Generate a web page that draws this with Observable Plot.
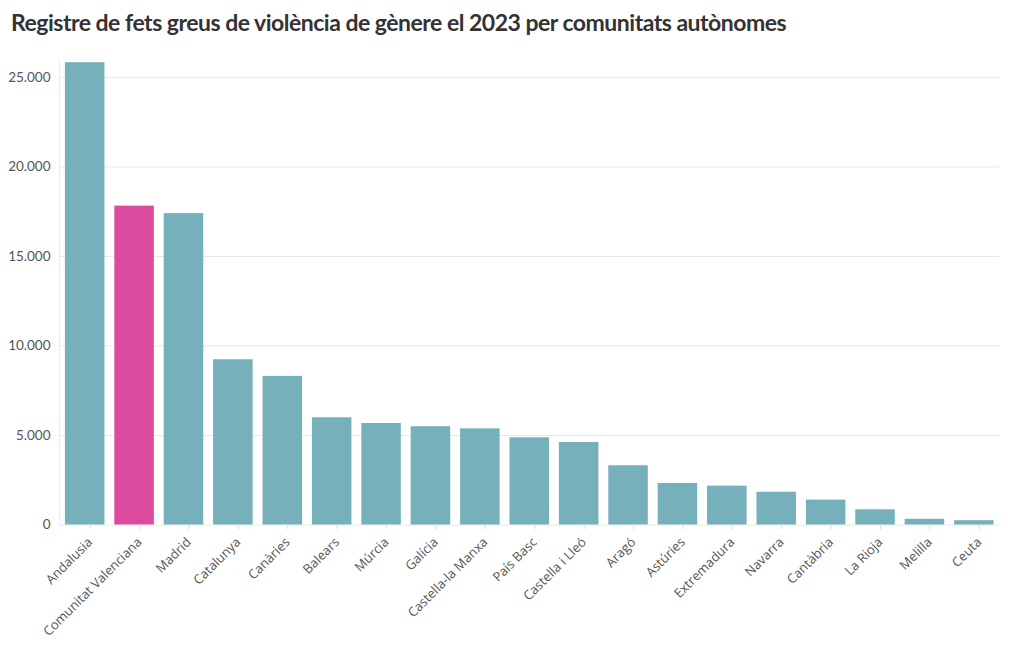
<!DOCTYPE html>
<html><head><meta charset="utf-8">
<script src="https://cdn.jsdelivr.net/npm/d3@7"></script>
<script src="https://cdn.jsdelivr.net/npm/@observablehq/plot@0.6"></script>
<style>
body{margin:0;background:#fff;width:1020px;height:650px;overflow:hidden;}
#title{height:50px;box-sizing:border-box;padding:8px 0 0 11px;font-family:"Source Sans Pro",Lato,"Open Sans",sans-serif;font-weight:700;font-size:23px;color:#333;letter-spacing:-0.5px;white-space:nowrap;}
</style></head><body>
<div id="title">Registre de fets greus de violència de gènere el 2023 per comunitats autònomes</div>
<div id="chart"></div>
<script>
const comunitats = ["Andalusia","Comunitat Valenciana","Madrid","Catalunya","Canàries","Balears","Múrcia","Galícia","Castella-la Manxa","País Basc","Castella i Lleó","Aragó","Astúries","Extremadura","Navarra","Cantàbria","La Rioja","Melilla","Ceuta"];
const fets = [25820,17810,17390,9230,8300,5990,5670,5490,5370,4870,4610,3310,2320,2170,1830,1390,850,320,240];
const destacada = "Comunitat Valenciana";
const yTicks = [0,5000,10000,15000,20000,25000];

const data = comunitats.map((c,i)=>({comunitat:c, fets:fets[i]}));
const loc = d3.formatLocale({thousands:".", decimal:",", grouping:[3], currency:["","€"]});
const fmt = loc.format(",");

const chart = Plot.plot({
  width:1020, height:600,
  marginTop:9, marginBottom:125.5, marginLeft:59, marginRight:20.5,
  style:{fontFamily:"'Open Sans',sans-serif", fontSize:"13px", color:"#555", background:"#fff"},
  x:{domain:comunitats, paddingInner:0.2, paddingOuter:0.12, round:false, label:null},
  y:{domain:[0,26000], label:null},
  marks:[
    Plot.gridY(yTicks,{stroke:"#e8e8e8", strokeOpacity:1}),
    Plot.frame({anchor:"left", stroke:"#ececec"}),
    Plot.barY(data,{x:"comunitat", y:"fets", fill:d=>d.comunitat===destacada?"#dc4a9e":"#76b0bb"}),
    Plot.axisY(yTicks,{tickSize:0, tickPadding:9, tickFormat:fmt, fontFamily:"'Source Sans Pro',Lato,sans-serif", fontSize:13.5, fill:"#555"}),
    Plot.axisX({tickSize:5, stroke:"#ddd", tickPadding:10, dx:5, tickRotate:-45, fontFamily:"'Open Sans',sans-serif", fontSize:13, fill:"#555"})
  ]
});
document.getElementById("chart").appendChild(chart);
</script>
</body></html>
